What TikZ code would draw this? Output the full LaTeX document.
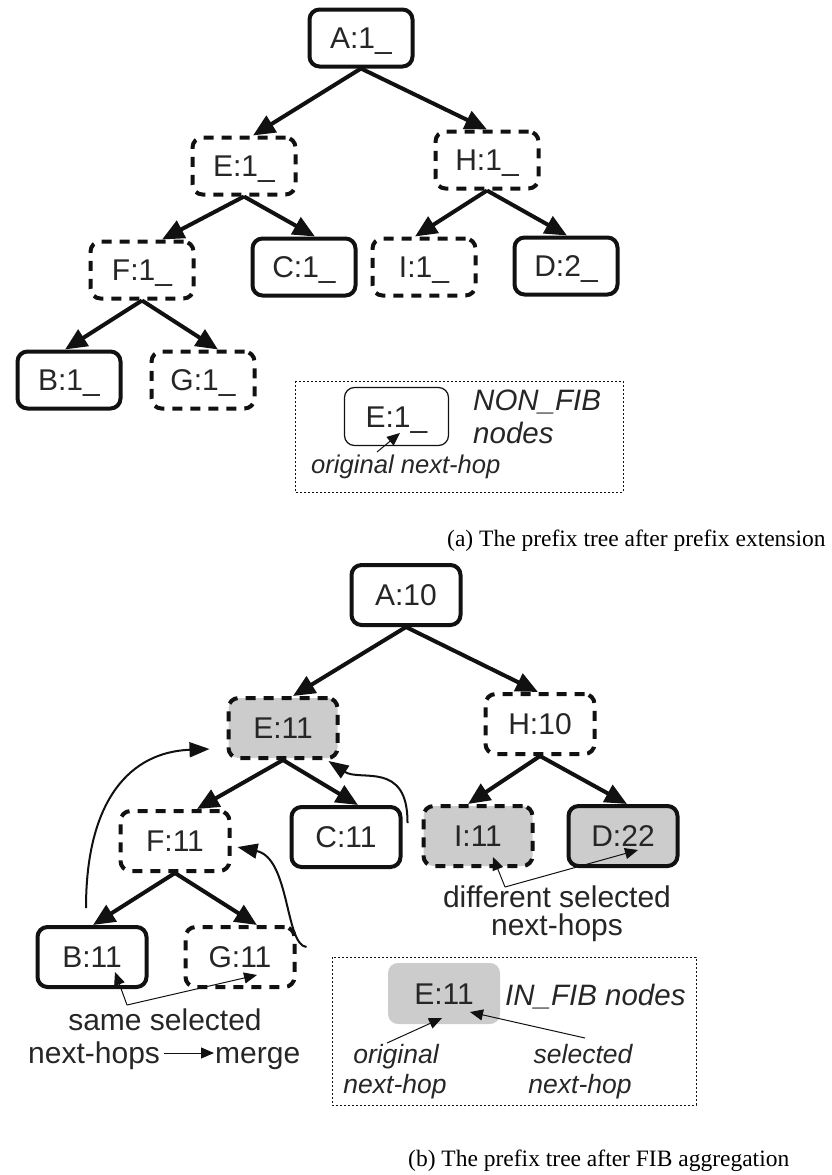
\documentclass[tikz,border=0pt]{standalone}
\usepackage{fontspec}
\setmainfont{Liberation Serif}
\newfontfamily\lsans{Liberation Sans}
\usetikzlibrary{arrows.meta,calc}
\definecolor{inkc}{HTML}{111111}
\definecolor{txtc}{HTML}{262626}
\definecolor{fibgrey}{HTML}{CCCCCC}
\tikzset{
  tnode/.style={draw=inkc, line width=4pt, rounded corners=10pt, fill=white,
    font=\lsans\fontsize{30}{36}\selectfont, text=txtc, inner sep=0pt,
    text height=21.5pt, text depth=0pt},
  solidnode/.style={tnode},
  dashnode/.style={tnode, dash pattern=on 10pt off 8pt},
  sza/.style={minimum width=103pt, minimum height=57pt},
  szb/.style={minimum width=109pt, minimum height=60pt},
  infib/.style={fill=fibgrey},
  treeedge/.style={draw=inkc, line width=4pt, -{Triangle[length=22pt,width=19pt]}},
  backedge/.style={draw=inkc, line width=2pt, -{Triangle[length=20pt,width=15pt]}},
  noteedge/.style={draw=inkc, line width=1pt, -{Triangle[length=13pt,width=11pt]}},
  legendbox/.style={draw=inkc, line width=1pt, dash pattern=on 2pt off 2pt},
  txt/.style={font=\lsans\fontsize{30}{36}\selectfont, text=txtc, inner sep=0pt},
  ilab/.style={font=\lsans\itshape\fontsize{29.5}{34}\selectfont, text=txtc, inner sep=0pt},
  ilabs/.style={font=\lsans\itshape\fontsize{25.6}{30}\selectfont, text=txtc, inner sep=0pt},
  ilabm/.style={font=\lsans\itshape\fontsize{26.5}{31}\selectfont, text=txtc, inner sep=0pt},
  capt/.style={font=\fontsize{23.5}{28}\selectfont, text=black, inner sep=0pt}
}
\begin{document}
\begin{tikzpicture}[x=1pt,y=-1pt]
\useasboundingbox (0,0) rectangle (832,1175);

% ---------- (a) prefix tree after prefix extension ----------
\node[solidnode,sza] (A1) at (361,38)  {A:1\_};
\node[dashnode,sza]  (E1) at (244,166) {E:1\_};
\node[dashnode,sza]  (H1) at (487,160) {H:1\_};
\node[dashnode,sza]  (F1) at (142,270) {F:1\_};
\node[solidnode,sza] (C1) at (304,267) {C:1\_};
\node[dashnode,sza]  (I1) at (424,267) {I:1\_};
\node[solidnode,sza] (D1) at (566,266) {D:2\_};
\node[solidnode,sza] (B1) at (69,380)  {B:1\_};
\node[dashnode,sza]  (G1) at (203,380) {G:1\_};

\draw[treeedge] (A1.south) -- ([xshift=9pt]E1.north);
\draw[treeedge] (A1.south) -- (H1.north);
\draw[treeedge] (E1.south) -- ([xshift=20pt]F1.north);
\draw[treeedge] (E1.south) -- ([xshift=11pt]C1.north);
\draw[treeedge] (H1.south) -- ([xshift=-9pt]I1.north);
\draw[treeedge] (H1.south) -- ([xshift=1pt]D1.north);
\draw[treeedge] (F1.south) -- ([xshift=-4pt]B1.north);
\draw[treeedge] (F1.south) -- ([xshift=15pt]G1.north);

% legend for NON_FIB nodes
\draw[legendbox] (295,381) rectangle (623,492);
\node[draw=inkc, line width=1.2pt, rounded corners=10pt, minimum width=104pt,
  minimum height=58pt, inner sep=0pt, font=\lsans\fontsize{30}{36}\selectfont,
  text=txtc, text height=21.5pt, text depth=0pt] (LA) at (396.5,416.5) {E:1\_};
\node[ilab, anchor=base west] (nonfib) at (473,410) {NON\_FIB};
\node[ilab, anchor=base west] (nonfibn) at (473,443) {nodes};
\node[ilabs, anchor=base west] (origa) at (311,473) {original next-hop};
\coordinate (origaTail) at (377,452);
\draw[noteedge] (origaTail) -- ($(LA.center)+(3.5,16.5)$);

\node[capt, anchor=base west] (capa) at (447,546) {(a) The prefix tree after prefix extension};

% ---------- (b) prefix tree after FIB aggregation ----------
\node[solidnode,szb]       (A2) at (406,595) {A:10};
\node[dashnode,szb,infib]  (E2) at (283,728) {E:11};
\node[dashnode,szb]        (H2) at (540,724) {H:10};
\node[dashnode,szb]        (F2) at (175,841) {F:11};
\node[solidnode,szb]       (C2) at (346,837) {C:11};
\node[dashnode,szb,infib]  (I2) at (478,836) {I:11};
\node[solidnode,szb,infib] (D2) at (623,836) {D:22};
\node[solidnode,szb]       (B2) at (92,957)  {B:11};
\node[dashnode,szb]        (G2) at (240,957) {G:11};

\draw[treeedge] (A2.south) -- ([xshift=10pt]E2.north);
\draw[treeedge] (A2.south) -- ([xshift=-2pt]H2.north);
\draw[treeedge] (E2.south) -- ([xshift=22pt]F2.north);
\draw[treeedge] (E2.south) -- ([xshift=12pt]C2.north);
\draw[treeedge] (H2.south) -- ([xshift=-10pt]I2.north);
\draw[treeedge] (H2.south) -- ([xshift=4pt]D2.north);
\draw[treeedge] (F2.south) -- ([xshift=1pt]B2.north);
\draw[treeedge] (F2.south) -- ([xshift=17pt]G2.north);

% merged children point back to their parents
\draw[backedge] ($(B2.north)+(-6,-17)$) .. controls (86,800) and (130,752) .. ($(E2.west)+(-17,21)$);
\draw[backedge] ($(C2.north east)+(5,18)$) .. controls (408,760) and (360,782) .. ($(E2.south east)+(-11,1)$);
\draw[backedge] ($(G2.east)+(10,-10)$) .. controls (285,945) and (290,858) .. ($(F2.east)+(6,6)$);

% same next-hops -> merge
\node[txt, anchor=base] (same) at (165,1030) {same selected};
\node[txt, anchor=base west] (nhm) at (28,1063) {next-hops};
\node[txt, anchor=base west] (merge) at (215,1063) {merge};
\coordinate (sameJ) at (127,1005);
\draw[noteedge] (sameJ) -- ($(B2.center)+(23,15)$);
\draw[noteedge] (sameJ) -- ($(G2.center)+(17,18)$);
\draw[noteedge] ($(nhm.base east)+(4,-10)$) -- ($(merge.base west)+(-1,-10)$);

% different next-hops
\node[txt, anchor=base] (diff) at (557,907) {different selected};
\node[txt, anchor=base] (diffn) at (557,935) {next-hops};
\coordinate (diffJ) at (505,887);
\draw[noteedge] (diffJ) -- ($(I2.center)+(15,21)$);
\draw[noteedge] (diffJ) -- ($(D2.center)+(15,14)$);

% legend for IN_FIB nodes
\draw[legendbox] (332,957) rectangle (696,1105);
\node[fill=fibgrey, rounded corners=10pt, minimum width=112pt, minimum height=61pt,
  inner sep=0pt, font=\lsans\fontsize{30}{36}\selectfont, text=txtc,
  text height=21.5pt, text depth=0pt] (LB) at (444,993.5) {E:11};
\node[ilab, anchor=base west] (infib) at (505,1005) {IN\_FIB nodes};
\node[ilabm, anchor=base] (origb) at (396,1063) {original};
\node[ilabm, anchor=base] (origbn) at (395,1093) {next-hop};
\node[ilabm, anchor=base] (selb) at (583,1063) {selected};
\node[ilabm, anchor=base] (selbn) at (580,1093) {next-hop};
\coordinate (origbTail) at (387,1043);
\coordinate (selbTail) at (585,1038);
\draw[noteedge] (origbTail) -- ($(LB.center)+(-2,24.5)$);
\draw[noteedge] (selbTail) -- ($(LB.center)+(26,18.5)$);

\node[capt, anchor=base west] (capb) at (408,1166) {(b) The prefix tree after FIB aggregation};
\end{tikzpicture}
\end{document}
